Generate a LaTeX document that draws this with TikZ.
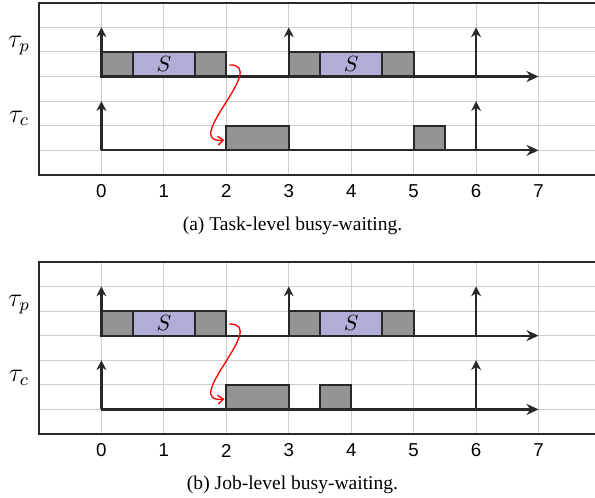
\documentclass[tikz,border=0pt]{standalone}
\usepackage{fontspec}
\newfontfamily\numfont{Liberation Sans}
\newfontfamily\capfont{Liberation Serif}
\usetikzlibrary{arrows.meta}

\definecolor{jobgray}{RGB}{148,148,150}
\definecolor{critpurple}{RGB}{176,174,214}
\definecolor{gridgray}{RGB}{206,206,206}
\definecolor{framegray}{RGB}{40,40,40}

\begin{document}
\begin{tikzpicture}[x=1cm, y=0.394cm]

	\tikzset{gridline/.style={gridgray, line width=0.45pt}}
	\tikzset{panelframe/.style={framegray, line width=0.9pt}}
	\tikzset{jobbox/.style={fill=jobgray, draw=framegray, line width=0.9pt}}
	\tikzset{critbox/.style={fill=critpurple, draw=framegray, line width=0.9pt}}
	\tikzset{timeaxis/.style={-{Stealth[length=5.5pt, width=5pt]}, framegray, line width=1pt}}
	\tikzset{release/.style={-{Stealth[length=4.5pt, width=4.5pt]}, framegray, line width=1pt}}
	\tikzset{wakeup/.style={-{Straight Barb[length=2.5pt, width=4pt]}, red, line width=0.6pt}}

	% page size of the reference
	\useasboundingbox (-1.624,0) rectangle (7.904,20.24);
	\clip (-1.624,0) rectangle (7.904,20.24);

	\foreach \p/\yo/\cs/\ce/\cap in {a/13.13/5/5.5/{(a) Task-level busy-waiting.},
		b/2.6/3.5/4/{(b) Job-level busy-waiting.}}
	{
		\begin{scope}[shift={(0,\yo)}]

			% grid and frame
			\foreach \i in {0,...,7}
				\draw[gridline] (\i,0) -- (\i,7);
			\foreach \j in {1,...,6}
				\draw[gridline] (-1,\j) -- (8,\j);
			\draw[panelframe] (-1,0) rectangle (8,7);

			% tau_p jobs
			\foreach \t in {0,3} {
				\draw[jobbox] (\t,4) rectangle (\t+0.5,5);
				\draw[critbox] (\t+0.5,4) rectangle (\t+1.5,5);
				\draw[jobbox] (\t+1.5,4) rectangle (\t+2,5);
				\node (S-\p\t) at (\t+1,4.5) {$S$};
			}

			% tau_c jobs
			\draw[jobbox] (2,1) rectangle (3,2);
			\draw[jobbox] (\cs,1) rectangle (\ce,2);

			% axes and releases
			\draw[timeaxis] (0,4) -- (7,4);
			\draw[timeaxis] (0,1) -- (7,1);
			\foreach \t in {0,3,6}
				\draw[release] (\t,4) -- (\t,6);
			\foreach \t in {0,6}
				\draw[release] (\t,1) -- (\t,3);

			\node[font=\large] (taup-\p) at (-1.32,5.25) {$\tau_p$};
			\node[font=\large] (tauc-\p) at (-1.32,2.3) {$\tau_c$};

			% wake up of tau_c
			\coordinate (wS-\p) at (2.05,4.47);
			\coordinate (wE-\p) at (1.97,1.42);
			\draw[wakeup] (wS-\p) .. controls (2.7,4.5) and (1.25,1.25) .. (wE-\p);

			% time labels
			\foreach \t in {0,...,7}
				\node[font={\numfont\fontsize{8.5}{10}\selectfont}] (n-\p\t) at (\t,-0.67) {\t};

			\node[font={\capfont\fontsize{8.9}{10}\selectfont}] (cap-\p) at (3.06,-2.05) {\cap};

		\end{scope}
	}

\end{tikzpicture}
\end{document}
